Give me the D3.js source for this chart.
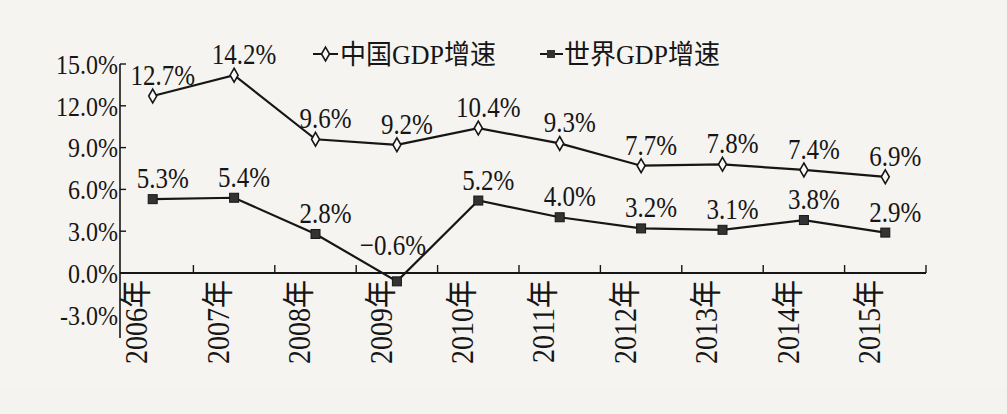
<!DOCTYPE html>
<html><head><meta charset="utf-8">
<script src="https://cdn.jsdelivr.net/npm/d3@7/dist/d3.min.js"></script>
<style>
html,body{margin:0;padding:0;background:#f6f4f1;}
svg{display:block;}
</style></head>
<body>
<svg id="c" width="1007" height="414"></svg>
<script>
const years = ["2006年","2007年","2008年","2009年","2010年","2011年","2012年","2013年","2014年","2015年"];
const chinaGDP = [12.7,14.2,9.6,9.2,10.4,9.3,7.7,7.8,7.4,6.9];
const worldGDP = [5.3,5.4,2.8,-0.6,5.2,4.0,3.2,3.1,3.8,2.9];
const yTicks = [-3,0,3,6,9,12,15];
const seriesNames = ["中国GDP增速","世界GDP增速"];

const svg = d3.select("#c");
const ink = "#161616";
const serif = "'Liberation Serif','DejaVu Serif',serif";
const cjk = "'Liberation Serif','Noto Sans CJK SC',serif";
const stretch = 1.17;

svg.append("rect").attr("width",1007).attr("height",414).attr("fill","#f6f4f1");
svg.append("rect").attr("y",388).attr("width",1007).attr("height",26).attr("fill","#f4f3ef");

const x = d3.scaleBand().domain(years).range([112,926]);
const y = d3.scaleLinear().domain([0,15]).range([273,64]);
const axisX = 120;
const cx = d => x(d) + x.bandwidth()/2;

// y axis
svg.append("line").attr("x1",axisX).attr("x2",axisX).attr("y1",y(15)).attr("y2",338)
  .attr("stroke",ink).attr("stroke-width",1.6);
yTicks.filter(t=>t>0).forEach(t=>{
  svg.append("line").attr("x1",axisX).attr("x2",axisX+6).attr("y1",y(t)).attr("y2",y(t))
    .attr("stroke",ink).attr("stroke-width",1.4);
});
svg.append("g").selectAll("text").data(yTicks).join("text")
  .attr("transform",d=>`translate(${axisX-2},${y(d)}) scale(1,${stretch})`)
  .attr("dy","0.35em")
  .attr("text-anchor","end").attr("font-family",serif).attr("font-size",24)
  .attr("fill",ink).text(d=>(d<0?"-":"")+Math.abs(d).toFixed(1)+"%");

// x axis
svg.append("line").attr("x1",axisX).attr("x2",926).attr("y1",y(0)).attr("y2",y(0))
  .attr("stroke",ink).attr("stroke-width",1.8);
years.forEach(yr=>{
  const bx = x(yr)+x.bandwidth();
  svg.append("line").attr("x1",bx).attr("x2",bx).attr("y1",y(0)).attr("y2",y(0)-8)
    .attr("stroke",ink).attr("stroke-width",1.4);
});
svg.append("g").selectAll("text").data(years).join("text")
  .attr("transform",d=>`translate(${cx(d)-17},${y(0)+7}) rotate(-90) scale(1,1.15)`)
  .attr("dy","0.36em").attr("text-anchor","end")
  .attr("font-family",cjk).attr("font-size",28).attr("fill",ink)
  .text(d=>d);

// lines
const line = d3.line().x((d,i)=>cx(years[i])).y(d=>y(d));
svg.append("path").datum(chinaGDP).attr("d",line).attr("fill","none").attr("stroke",ink).attr("stroke-width",2.2);
svg.append("path").datum(worldGDP).attr("d",line).attr("fill","none").attr("stroke",ink).attr("stroke-width",2.2);

// markers
const diamond = d3.symbol().type(d3.symbolDiamond).size(55);
svg.append("g").selectAll("path").data(chinaGDP).join("path")
  .attr("transform",(d,i)=>`translate(${cx(years[i])},${y(d)})`)
  .attr("d",diamond).attr("fill","#fafafa").attr("stroke",ink).attr("stroke-width",1.6);
svg.append("g").selectAll("rect").data(worldGDP).join("rect")
  .attr("x",(d,i)=>cx(years[i])-4.5).attr("y",d=>y(d)-4.5)
  .attr("width",9).attr("height",9).attr("fill","#333").attr("stroke",ink).attr("stroke-width",1);

// data labels
function labels(arr){
  svg.append("g").selectAll("text").data(arr).join("text")
    .attr("transform",(d,i)=>`translate(${cx(years[i]) + (d<0 ? -4 : 10)},${y(d) - (d<0 ? 26 : 11)}) scale(1,${stretch})`)
    .attr("text-anchor","middle").attr("font-family",serif).attr("font-size",25)
    .attr("fill",ink).text(d=>(d<0?"−":"")+Math.abs(d).toFixed(1)+"%");
}
labels(chinaGDP);
labels(worldGDP);

// legend
const lg = svg.append("g");
lg.append("line").attr("x1",313).attr("x2",338).attr("y1",54).attr("y2",54).attr("stroke",ink).attr("stroke-width",2);
lg.append("path").attr("transform","translate(325.5,54)").attr("d",diamond).attr("fill","#fafafa").attr("stroke",ink).attr("stroke-width",1.6);
lg.append("text").attr("transform","translate(340,54) scale(1,1.05)").attr("dy","0.36em").attr("font-family",cjk).attr("font-size",26).attr("fill",ink).text(seriesNames[0]);
lg.append("line").attr("x1",540).attr("x2",563).attr("y1",54).attr("y2",54).attr("stroke",ink).attr("stroke-width",2);
lg.append("rect").attr("x",547).attr("y",50).attr("width",8).attr("height",8).attr("fill","#333");
lg.append("text").attr("transform","translate(564,54) scale(1,1.05)").attr("dy","0.36em").attr("font-family",cjk).attr("font-size",26).attr("fill",ink).text(seriesNames[1]);
</script>
</body></html>
